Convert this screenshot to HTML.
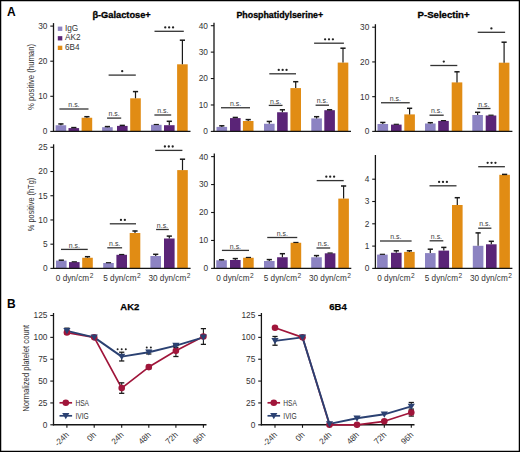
<!DOCTYPE html>
<html><head><meta charset="utf-8"><style>
html,body{margin:0;padding:0;background:#fff;}
body{width:520px;height:452px;overflow:hidden;}
svg{display:block;font-family:"Liberation Sans", sans-serif;}
</style></head><body>
<svg width="520" height="452" viewBox="0 0 520 452">
<rect x="0" y="0" width="520" height="452" fill="#fff"/>
<line x1="53.50" y1="23.10" x2="53.50" y2="132.00" stroke="#151515" stroke-width="1.3"/>
<line x1="50.30" y1="131.40" x2="53.50" y2="131.40" stroke="#151515" stroke-width="1.1"/>
<text x="47.40" y="134.30" font-size="8.3" text-anchor="end" font-weight="normal" fill="#333333" >0</text>
<line x1="50.30" y1="96.30" x2="53.50" y2="96.30" stroke="#151515" stroke-width="1.1"/>
<text x="47.40" y="99.20" font-size="8.3" text-anchor="end" font-weight="normal" fill="#333333" >10</text>
<line x1="50.30" y1="61.20" x2="53.50" y2="61.20" stroke="#151515" stroke-width="1.1"/>
<text x="47.40" y="64.10" font-size="8.3" text-anchor="end" font-weight="normal" fill="#333333" >20</text>
<line x1="50.30" y1="26.10" x2="53.50" y2="26.10" stroke="#151515" stroke-width="1.1"/>
<text x="47.40" y="29.00" font-size="8.3" text-anchor="end" font-weight="normal" fill="#333333" >30</text>
<rect x="55.60" y="125.25" width="10.60" height="6.15" fill="#8c83c2"/>
<rect x="68.50" y="128.10" width="10.60" height="3.30" fill="#5a2477"/>
<rect x="81.60" y="117.75" width="10.60" height="13.65" fill="#e18c14"/>
<rect x="102.10" y="127.20" width="10.60" height="4.20" fill="#8c83c2"/>
<rect x="117.00" y="125.90" width="10.60" height="5.50" fill="#5a2477"/>
<rect x="130.20" y="98.30" width="10.60" height="33.10" fill="#e18c14"/>
<rect x="151.00" y="124.80" width="10.60" height="6.60" fill="#8c83c2"/>
<rect x="164.00" y="125.20" width="10.60" height="6.20" fill="#5a2477"/>
<rect x="177.10" y="64.30" width="10.60" height="67.10" fill="#e18c14"/>
<line x1="60.90" y1="125.25" x2="60.90" y2="123.75" stroke="#1a1a1a" stroke-width="1.2"/>
<line x1="58.30" y1="123.95" x2="63.50" y2="123.95" stroke="#1a1a1a" stroke-width="1.5"/>
<line x1="73.80" y1="128.10" x2="73.80" y2="127.40" stroke="#1a1a1a" stroke-width="1.2"/>
<line x1="71.20" y1="127.60" x2="76.40" y2="127.60" stroke="#1a1a1a" stroke-width="1.5"/>
<line x1="86.90" y1="117.75" x2="86.90" y2="116.50" stroke="#1a1a1a" stroke-width="1.2"/>
<line x1="84.30" y1="116.70" x2="89.50" y2="116.70" stroke="#1a1a1a" stroke-width="1.5"/>
<line x1="107.40" y1="127.20" x2="107.40" y2="126.40" stroke="#1a1a1a" stroke-width="1.2"/>
<line x1="104.80" y1="126.60" x2="110.00" y2="126.60" stroke="#1a1a1a" stroke-width="1.5"/>
<line x1="122.30" y1="125.90" x2="122.30" y2="125.20" stroke="#1a1a1a" stroke-width="1.2"/>
<line x1="119.70" y1="125.40" x2="124.90" y2="125.40" stroke="#1a1a1a" stroke-width="1.5"/>
<line x1="135.50" y1="98.30" x2="135.50" y2="91.40" stroke="#1a1a1a" stroke-width="1.2"/>
<line x1="132.90" y1="91.60" x2="138.10" y2="91.60" stroke="#1a1a1a" stroke-width="1.5"/>
<line x1="153.70" y1="124.50" x2="158.90" y2="124.50" stroke="#1a1a1a" stroke-width="1.2"/>
<line x1="169.30" y1="125.20" x2="169.30" y2="121.10" stroke="#1a1a1a" stroke-width="1.2"/>
<line x1="166.70" y1="121.30" x2="171.90" y2="121.30" stroke="#1a1a1a" stroke-width="1.5"/>
<line x1="182.40" y1="64.30" x2="182.40" y2="40.00" stroke="#1a1a1a" stroke-width="1.2"/>
<line x1="179.80" y1="40.20" x2="185.00" y2="40.20" stroke="#1a1a1a" stroke-width="1.5"/>
<line x1="52.90" y1="131.40" x2="190.50" y2="131.40" stroke="#151515" stroke-width="1.4"/>
<line x1="59.40" y1="109.00" x2="88.50" y2="109.00" stroke="#333333" stroke-width="1.3"/>
<text x="73.95" y="107.20" font-size="6.5" text-anchor="middle" font-weight="normal" fill="#3a3a3a" textLength="11.2" lengthAdjust="spacingAndGlyphs" >n.s.</text>
<line x1="107.10" y1="118.10" x2="121.20" y2="118.10" stroke="#333333" stroke-width="1.3"/>
<text x="114.15" y="116.30" font-size="6.5" text-anchor="middle" font-weight="normal" fill="#3a3a3a" textLength="11.2" lengthAdjust="spacingAndGlyphs" >n.s.</text>
<line x1="108.60" y1="75.10" x2="135.80" y2="75.10" stroke="#333333" stroke-width="1.3"/>
<circle cx="122.20" cy="71.20" r="1.15" fill="#222"/>
<line x1="154.40" y1="115.00" x2="171.20" y2="115.00" stroke="#333333" stroke-width="1.3"/>
<text x="162.80" y="113.20" font-size="6.5" text-anchor="middle" font-weight="normal" fill="#3a3a3a" textLength="11.2" lengthAdjust="spacingAndGlyphs" >n.s.</text>
<line x1="154.50" y1="31.30" x2="183.80" y2="31.30" stroke="#333333" stroke-width="1.3"/>
<circle cx="165.25" cy="27.40" r="1.15" fill="#222"/>
<circle cx="169.15" cy="27.40" r="1.15" fill="#222"/>
<circle cx="173.05" cy="27.40" r="1.15" fill="#222"/>
<line x1="214.00" y1="22.70" x2="214.00" y2="132.00" stroke="#151515" stroke-width="1.3"/>
<line x1="210.80" y1="131.40" x2="214.00" y2="131.40" stroke="#151515" stroke-width="1.1"/>
<text x="207.90" y="134.30" font-size="8.3" text-anchor="end" font-weight="normal" fill="#333333" >0</text>
<line x1="210.80" y1="104.98" x2="214.00" y2="104.98" stroke="#151515" stroke-width="1.1"/>
<text x="207.90" y="107.88" font-size="8.3" text-anchor="end" font-weight="normal" fill="#333333" >10</text>
<line x1="210.80" y1="78.55" x2="214.00" y2="78.55" stroke="#151515" stroke-width="1.1"/>
<text x="207.90" y="81.45" font-size="8.3" text-anchor="end" font-weight="normal" fill="#333333" >20</text>
<line x1="210.80" y1="52.12" x2="214.00" y2="52.12" stroke="#151515" stroke-width="1.1"/>
<text x="207.90" y="55.02" font-size="8.3" text-anchor="end" font-weight="normal" fill="#333333" >30</text>
<line x1="210.80" y1="25.70" x2="214.00" y2="25.70" stroke="#151515" stroke-width="1.1"/>
<text x="207.90" y="28.60" font-size="8.3" text-anchor="end" font-weight="normal" fill="#333333" >40</text>
<rect x="216.50" y="126.90" width="10.60" height="4.50" fill="#8c83c2"/>
<rect x="230.00" y="118.10" width="10.60" height="13.30" fill="#5a2477"/>
<rect x="242.90" y="121.00" width="10.60" height="10.40" fill="#e18c14"/>
<rect x="264.00" y="123.75" width="10.60" height="7.65" fill="#8c83c2"/>
<rect x="277.10" y="112.25" width="10.60" height="19.15" fill="#5a2477"/>
<rect x="290.40" y="88.10" width="10.60" height="43.30" fill="#e18c14"/>
<rect x="311.30" y="118.40" width="10.60" height="13.00" fill="#8c83c2"/>
<rect x="324.30" y="110.20" width="10.60" height="21.20" fill="#5a2477"/>
<rect x="337.70" y="62.60" width="10.60" height="68.80" fill="#e18c14"/>
<line x1="221.80" y1="126.90" x2="221.80" y2="125.60" stroke="#1a1a1a" stroke-width="1.2"/>
<line x1="219.20" y1="125.80" x2="224.40" y2="125.80" stroke="#1a1a1a" stroke-width="1.5"/>
<line x1="235.30" y1="118.10" x2="235.30" y2="117.25" stroke="#1a1a1a" stroke-width="1.2"/>
<line x1="232.70" y1="117.45" x2="237.90" y2="117.45" stroke="#1a1a1a" stroke-width="1.5"/>
<line x1="248.20" y1="121.00" x2="248.20" y2="119.40" stroke="#1a1a1a" stroke-width="1.2"/>
<line x1="245.60" y1="119.60" x2="250.80" y2="119.60" stroke="#1a1a1a" stroke-width="1.5"/>
<line x1="269.30" y1="123.75" x2="269.30" y2="121.25" stroke="#1a1a1a" stroke-width="1.2"/>
<line x1="266.70" y1="121.45" x2="271.90" y2="121.45" stroke="#1a1a1a" stroke-width="1.5"/>
<line x1="282.40" y1="112.25" x2="282.40" y2="109.60" stroke="#1a1a1a" stroke-width="1.2"/>
<line x1="279.80" y1="109.80" x2="285.00" y2="109.80" stroke="#1a1a1a" stroke-width="1.5"/>
<line x1="295.70" y1="88.10" x2="295.70" y2="81.50" stroke="#1a1a1a" stroke-width="1.2"/>
<line x1="293.10" y1="81.70" x2="298.30" y2="81.70" stroke="#1a1a1a" stroke-width="1.5"/>
<line x1="316.60" y1="118.40" x2="316.60" y2="116.50" stroke="#1a1a1a" stroke-width="1.2"/>
<line x1="314.00" y1="116.70" x2="319.20" y2="116.70" stroke="#1a1a1a" stroke-width="1.5"/>
<line x1="329.60" y1="110.20" x2="329.60" y2="109.60" stroke="#1a1a1a" stroke-width="1.2"/>
<line x1="327.00" y1="109.80" x2="332.20" y2="109.80" stroke="#1a1a1a" stroke-width="1.5"/>
<line x1="343.00" y1="62.60" x2="343.00" y2="48.00" stroke="#1a1a1a" stroke-width="1.2"/>
<line x1="340.40" y1="48.20" x2="345.60" y2="48.20" stroke="#1a1a1a" stroke-width="1.5"/>
<line x1="213.40" y1="131.40" x2="351.00" y2="131.40" stroke="#151515" stroke-width="1.4"/>
<line x1="221.00" y1="107.75" x2="250.00" y2="107.75" stroke="#333333" stroke-width="1.3"/>
<text x="235.50" y="105.95" font-size="6.5" text-anchor="middle" font-weight="normal" fill="#3a3a3a" textLength="11.2" lengthAdjust="spacingAndGlyphs" >n.s.</text>
<line x1="268.75" y1="105.40" x2="282.50" y2="105.40" stroke="#333333" stroke-width="1.3"/>
<text x="275.62" y="103.60" font-size="6.5" text-anchor="middle" font-weight="normal" fill="#3a3a3a" textLength="11.2" lengthAdjust="spacingAndGlyphs" >n.s.</text>
<line x1="269.30" y1="73.80" x2="296.00" y2="73.80" stroke="#333333" stroke-width="1.3"/>
<circle cx="278.75" cy="69.90" r="1.15" fill="#222"/>
<circle cx="282.65" cy="69.90" r="1.15" fill="#222"/>
<circle cx="286.55" cy="69.90" r="1.15" fill="#222"/>
<line x1="315.60" y1="105.20" x2="329.00" y2="105.20" stroke="#333333" stroke-width="1.3"/>
<text x="322.30" y="103.40" font-size="6.5" text-anchor="middle" font-weight="normal" fill="#3a3a3a" textLength="11.2" lengthAdjust="spacingAndGlyphs" >n.s.</text>
<line x1="314.10" y1="43.20" x2="343.90" y2="43.20" stroke="#333333" stroke-width="1.3"/>
<circle cx="325.10" cy="39.30" r="1.15" fill="#222"/>
<circle cx="329.00" cy="39.30" r="1.15" fill="#222"/>
<circle cx="332.90" cy="39.30" r="1.15" fill="#222"/>
<line x1="375.40" y1="24.20" x2="375.40" y2="132.00" stroke="#151515" stroke-width="1.3"/>
<line x1="372.20" y1="131.40" x2="375.40" y2="131.40" stroke="#151515" stroke-width="1.1"/>
<text x="369.30" y="134.30" font-size="8.3" text-anchor="end" font-weight="normal" fill="#333333" >0</text>
<line x1="372.20" y1="96.67" x2="375.40" y2="96.67" stroke="#151515" stroke-width="1.1"/>
<text x="369.30" y="99.57" font-size="8.3" text-anchor="end" font-weight="normal" fill="#333333" >10</text>
<line x1="372.20" y1="61.93" x2="375.40" y2="61.93" stroke="#151515" stroke-width="1.1"/>
<text x="369.30" y="64.83" font-size="8.3" text-anchor="end" font-weight="normal" fill="#333333" >20</text>
<line x1="372.20" y1="27.20" x2="375.40" y2="27.20" stroke="#151515" stroke-width="1.1"/>
<text x="369.30" y="30.10" font-size="8.3" text-anchor="end" font-weight="normal" fill="#333333" >30</text>
<rect x="377.50" y="124.00" width="10.60" height="7.40" fill="#8c83c2"/>
<rect x="391.00" y="124.60" width="10.60" height="6.80" fill="#5a2477"/>
<rect x="404.30" y="114.40" width="10.60" height="17.00" fill="#e18c14"/>
<rect x="425.00" y="123.50" width="10.60" height="7.90" fill="#8c83c2"/>
<rect x="438.20" y="120.90" width="10.60" height="10.50" fill="#5a2477"/>
<rect x="451.70" y="82.40" width="10.60" height="49.00" fill="#e18c14"/>
<rect x="472.30" y="115.00" width="10.60" height="16.40" fill="#8c83c2"/>
<rect x="485.70" y="115.50" width="10.60" height="15.90" fill="#5a2477"/>
<rect x="498.80" y="62.70" width="10.60" height="68.70" fill="#e18c14"/>
<line x1="382.80" y1="124.00" x2="382.80" y2="122.25" stroke="#1a1a1a" stroke-width="1.2"/>
<line x1="380.20" y1="122.45" x2="385.40" y2="122.45" stroke="#1a1a1a" stroke-width="1.5"/>
<line x1="393.70" y1="124.30" x2="398.90" y2="124.30" stroke="#1a1a1a" stroke-width="1.2"/>
<line x1="409.60" y1="114.40" x2="409.60" y2="108.10" stroke="#1a1a1a" stroke-width="1.2"/>
<line x1="407.00" y1="108.30" x2="412.20" y2="108.30" stroke="#1a1a1a" stroke-width="1.5"/>
<line x1="430.30" y1="123.50" x2="430.30" y2="122.50" stroke="#1a1a1a" stroke-width="1.2"/>
<line x1="427.70" y1="122.70" x2="432.90" y2="122.70" stroke="#1a1a1a" stroke-width="1.5"/>
<line x1="440.90" y1="120.60" x2="446.10" y2="120.60" stroke="#1a1a1a" stroke-width="1.2"/>
<line x1="457.00" y1="82.40" x2="457.00" y2="71.60" stroke="#1a1a1a" stroke-width="1.2"/>
<line x1="454.40" y1="71.80" x2="459.60" y2="71.80" stroke="#1a1a1a" stroke-width="1.5"/>
<line x1="477.60" y1="115.00" x2="477.60" y2="112.10" stroke="#1a1a1a" stroke-width="1.2"/>
<line x1="475.00" y1="112.30" x2="480.20" y2="112.30" stroke="#1a1a1a" stroke-width="1.5"/>
<line x1="488.40" y1="115.20" x2="493.60" y2="115.20" stroke="#1a1a1a" stroke-width="1.2"/>
<line x1="504.10" y1="62.70" x2="504.10" y2="42.00" stroke="#1a1a1a" stroke-width="1.2"/>
<line x1="501.50" y1="42.20" x2="506.70" y2="42.20" stroke="#1a1a1a" stroke-width="1.5"/>
<line x1="374.80" y1="131.40" x2="512.40" y2="131.40" stroke="#151515" stroke-width="1.4"/>
<line x1="381.00" y1="102.75" x2="409.75" y2="102.75" stroke="#333333" stroke-width="1.3"/>
<text x="395.38" y="100.95" font-size="6.5" text-anchor="middle" font-weight="normal" fill="#3a3a3a" textLength="11.2" lengthAdjust="spacingAndGlyphs" >n.s.</text>
<line x1="429.50" y1="115.20" x2="443.70" y2="115.20" stroke="#333333" stroke-width="1.3"/>
<text x="436.60" y="113.40" font-size="6.5" text-anchor="middle" font-weight="normal" fill="#3a3a3a" textLength="11.2" lengthAdjust="spacingAndGlyphs" >n.s.</text>
<line x1="430.30" y1="65.50" x2="457.30" y2="65.50" stroke="#333333" stroke-width="1.3"/>
<circle cx="443.80" cy="61.60" r="1.15" fill="#222"/>
<line x1="477.20" y1="108.50" x2="490.50" y2="108.50" stroke="#333333" stroke-width="1.3"/>
<text x="483.85" y="106.70" font-size="6.5" text-anchor="middle" font-weight="normal" fill="#3a3a3a" textLength="11.2" lengthAdjust="spacingAndGlyphs" >n.s.</text>
<line x1="477.70" y1="32.30" x2="505.10" y2="32.30" stroke="#333333" stroke-width="1.3"/>
<circle cx="491.40" cy="28.40" r="1.15" fill="#222"/>
<line x1="53.60" y1="144.30" x2="53.60" y2="269.00" stroke="#151515" stroke-width="1.3"/>
<line x1="50.40" y1="268.40" x2="53.60" y2="268.40" stroke="#151515" stroke-width="1.1"/>
<text x="47.50" y="271.30" font-size="8.3" text-anchor="end" font-weight="normal" fill="#333333" >0</text>
<line x1="50.40" y1="244.18" x2="53.60" y2="244.18" stroke="#151515" stroke-width="1.1"/>
<text x="47.50" y="247.08" font-size="8.3" text-anchor="end" font-weight="normal" fill="#333333" >5</text>
<line x1="50.40" y1="219.96" x2="53.60" y2="219.96" stroke="#151515" stroke-width="1.1"/>
<text x="47.50" y="222.86" font-size="8.3" text-anchor="end" font-weight="normal" fill="#333333" >10</text>
<line x1="50.40" y1="195.74" x2="53.60" y2="195.74" stroke="#151515" stroke-width="1.1"/>
<text x="47.50" y="198.64" font-size="8.3" text-anchor="end" font-weight="normal" fill="#333333" >15</text>
<line x1="50.40" y1="171.52" x2="53.60" y2="171.52" stroke="#151515" stroke-width="1.1"/>
<text x="47.50" y="174.42" font-size="8.3" text-anchor="end" font-weight="normal" fill="#333333" >20</text>
<line x1="50.40" y1="147.30" x2="53.60" y2="147.30" stroke="#151515" stroke-width="1.1"/>
<text x="47.50" y="150.20" font-size="8.3" text-anchor="end" font-weight="normal" fill="#333333" >25</text>
<rect x="56.00" y="260.60" width="10.60" height="7.80" fill="#8c83c2"/>
<rect x="69.00" y="262.10" width="10.60" height="6.30" fill="#5a2477"/>
<rect x="82.20" y="257.75" width="10.60" height="10.65" fill="#e18c14"/>
<rect x="103.20" y="263.00" width="10.60" height="5.40" fill="#8c83c2"/>
<rect x="116.40" y="254.80" width="10.60" height="13.60" fill="#5a2477"/>
<rect x="129.70" y="233.00" width="10.60" height="35.40" fill="#e18c14"/>
<rect x="150.40" y="256.00" width="10.60" height="12.40" fill="#8c83c2"/>
<rect x="164.00" y="238.50" width="10.60" height="29.90" fill="#5a2477"/>
<rect x="177.20" y="170.10" width="10.60" height="98.30" fill="#e18c14"/>
<line x1="61.30" y1="260.60" x2="61.30" y2="260.00" stroke="#1a1a1a" stroke-width="1.2"/>
<line x1="58.70" y1="260.20" x2="63.90" y2="260.20" stroke="#1a1a1a" stroke-width="1.5"/>
<line x1="71.70" y1="261.80" x2="76.90" y2="261.80" stroke="#1a1a1a" stroke-width="1.2"/>
<line x1="87.50" y1="257.75" x2="87.50" y2="256.50" stroke="#1a1a1a" stroke-width="1.2"/>
<line x1="84.90" y1="256.70" x2="90.10" y2="256.70" stroke="#1a1a1a" stroke-width="1.5"/>
<line x1="105.90" y1="262.70" x2="111.10" y2="262.70" stroke="#1a1a1a" stroke-width="1.2"/>
<line x1="119.10" y1="254.50" x2="124.30" y2="254.50" stroke="#1a1a1a" stroke-width="1.2"/>
<line x1="135.00" y1="233.00" x2="135.00" y2="230.80" stroke="#1a1a1a" stroke-width="1.2"/>
<line x1="132.40" y1="231.00" x2="137.60" y2="231.00" stroke="#1a1a1a" stroke-width="1.5"/>
<line x1="155.70" y1="256.00" x2="155.70" y2="254.10" stroke="#1a1a1a" stroke-width="1.2"/>
<line x1="153.10" y1="254.30" x2="158.30" y2="254.30" stroke="#1a1a1a" stroke-width="1.5"/>
<line x1="169.30" y1="238.50" x2="169.30" y2="235.90" stroke="#1a1a1a" stroke-width="1.2"/>
<line x1="166.70" y1="236.10" x2="171.90" y2="236.10" stroke="#1a1a1a" stroke-width="1.5"/>
<line x1="182.50" y1="170.10" x2="182.50" y2="159.00" stroke="#1a1a1a" stroke-width="1.2"/>
<line x1="179.90" y1="159.20" x2="185.10" y2="159.20" stroke="#1a1a1a" stroke-width="1.5"/>
<line x1="53.00" y1="268.40" x2="190.60" y2="268.40" stroke="#151515" stroke-width="1.4"/>
<line x1="61.00" y1="249.40" x2="87.75" y2="249.40" stroke="#333333" stroke-width="1.3"/>
<text x="74.38" y="247.60" font-size="6.5" text-anchor="middle" font-weight="normal" fill="#3a3a3a" textLength="11.2" lengthAdjust="spacingAndGlyphs" >n.s.</text>
<line x1="107.30" y1="247.80" x2="122.10" y2="247.80" stroke="#333333" stroke-width="1.3"/>
<text x="114.70" y="246.00" font-size="6.5" text-anchor="middle" font-weight="normal" fill="#3a3a3a" textLength="11.2" lengthAdjust="spacingAndGlyphs" >n.s.</text>
<line x1="109.80" y1="223.80" x2="136.00" y2="223.80" stroke="#333333" stroke-width="1.3"/>
<circle cx="120.95" cy="219.90" r="1.15" fill="#222"/>
<circle cx="124.85" cy="219.90" r="1.15" fill="#222"/>
<line x1="156.10" y1="229.50" x2="168.80" y2="229.50" stroke="#333333" stroke-width="1.3"/>
<text x="162.45" y="227.70" font-size="6.5" text-anchor="middle" font-weight="normal" fill="#3a3a3a" textLength="11.2" lengthAdjust="spacingAndGlyphs" >n.s.</text>
<line x1="155.20" y1="150.40" x2="182.40" y2="150.40" stroke="#333333" stroke-width="1.3"/>
<circle cx="164.90" cy="146.50" r="1.15" fill="#222"/>
<circle cx="168.80" cy="146.50" r="1.15" fill="#222"/>
<circle cx="172.70" cy="146.50" r="1.15" fill="#222"/>
<text x="74.60" y="280.90" font-size="8.2" text-anchor="middle" fill="#333333">0 dyn/cm<tspan font-size="6.6" dx="0.6" dy="-3.3">2</tspan></text>
<text x="122.00" y="280.90" font-size="8.2" text-anchor="middle" fill="#333333">5 dyn/cm<tspan font-size="6.6" dx="0.6" dy="-3.3">2</tspan></text>
<text x="169.50" y="280.90" font-size="8.2" text-anchor="middle" fill="#333333">30 dyn/cm<tspan font-size="6.6" dx="0.6" dy="-3.3">2</tspan></text>
<line x1="214.30" y1="153.60" x2="214.30" y2="269.00" stroke="#151515" stroke-width="1.3"/>
<line x1="211.10" y1="268.40" x2="214.30" y2="268.40" stroke="#151515" stroke-width="1.1"/>
<text x="208.20" y="271.30" font-size="8.3" text-anchor="end" font-weight="normal" fill="#333333" >0</text>
<line x1="211.10" y1="240.45" x2="214.30" y2="240.45" stroke="#151515" stroke-width="1.1"/>
<text x="208.20" y="243.35" font-size="8.3" text-anchor="end" font-weight="normal" fill="#333333" >10</text>
<line x1="211.10" y1="212.50" x2="214.30" y2="212.50" stroke="#151515" stroke-width="1.1"/>
<text x="208.20" y="215.40" font-size="8.3" text-anchor="end" font-weight="normal" fill="#333333" >20</text>
<line x1="211.10" y1="184.55" x2="214.30" y2="184.55" stroke="#151515" stroke-width="1.1"/>
<text x="208.20" y="187.45" font-size="8.3" text-anchor="end" font-weight="normal" fill="#333333" >30</text>
<line x1="211.10" y1="156.60" x2="214.30" y2="156.60" stroke="#151515" stroke-width="1.1"/>
<text x="208.20" y="159.50" font-size="8.3" text-anchor="end" font-weight="normal" fill="#333333" >40</text>
<rect x="216.25" y="260.25" width="10.60" height="8.15" fill="#8c83c2"/>
<rect x="230.00" y="260.00" width="10.60" height="8.40" fill="#5a2477"/>
<rect x="243.10" y="257.75" width="10.60" height="10.65" fill="#e18c14"/>
<rect x="264.00" y="261.00" width="10.60" height="7.40" fill="#8c83c2"/>
<rect x="277.10" y="257.25" width="10.60" height="11.15" fill="#5a2477"/>
<rect x="290.60" y="242.75" width="10.60" height="25.65" fill="#e18c14"/>
<rect x="311.20" y="257.25" width="10.60" height="11.15" fill="#8c83c2"/>
<rect x="324.80" y="253.30" width="10.60" height="15.10" fill="#5a2477"/>
<rect x="338.30" y="198.60" width="10.60" height="69.80" fill="#e18c14"/>
<line x1="221.55" y1="260.25" x2="221.55" y2="259.60" stroke="#1a1a1a" stroke-width="1.2"/>
<line x1="218.95" y1="259.80" x2="224.15" y2="259.80" stroke="#1a1a1a" stroke-width="1.5"/>
<line x1="235.30" y1="260.00" x2="235.30" y2="258.40" stroke="#1a1a1a" stroke-width="1.2"/>
<line x1="232.70" y1="258.60" x2="237.90" y2="258.60" stroke="#1a1a1a" stroke-width="1.5"/>
<line x1="245.80" y1="257.45" x2="251.00" y2="257.45" stroke="#1a1a1a" stroke-width="1.2"/>
<line x1="269.30" y1="261.00" x2="269.30" y2="259.40" stroke="#1a1a1a" stroke-width="1.2"/>
<line x1="266.70" y1="259.60" x2="271.90" y2="259.60" stroke="#1a1a1a" stroke-width="1.5"/>
<line x1="282.40" y1="257.25" x2="282.40" y2="253.50" stroke="#1a1a1a" stroke-width="1.2"/>
<line x1="279.80" y1="253.70" x2="285.00" y2="253.70" stroke="#1a1a1a" stroke-width="1.5"/>
<line x1="293.30" y1="242.45" x2="298.50" y2="242.45" stroke="#1a1a1a" stroke-width="1.2"/>
<line x1="316.50" y1="257.25" x2="316.50" y2="255.40" stroke="#1a1a1a" stroke-width="1.2"/>
<line x1="313.90" y1="255.60" x2="319.10" y2="255.60" stroke="#1a1a1a" stroke-width="1.5"/>
<line x1="327.50" y1="253.00" x2="332.70" y2="253.00" stroke="#1a1a1a" stroke-width="1.2"/>
<line x1="343.60" y1="198.60" x2="343.60" y2="185.80" stroke="#1a1a1a" stroke-width="1.2"/>
<line x1="341.00" y1="186.00" x2="346.20" y2="186.00" stroke="#1a1a1a" stroke-width="1.5"/>
<line x1="213.70" y1="268.40" x2="351.30" y2="268.40" stroke="#151515" stroke-width="1.4"/>
<line x1="221.90" y1="250.40" x2="249.00" y2="250.40" stroke="#333333" stroke-width="1.3"/>
<text x="235.45" y="248.60" font-size="6.5" text-anchor="middle" font-weight="normal" fill="#3a3a3a" textLength="11.2" lengthAdjust="spacingAndGlyphs" >n.s.</text>
<line x1="267.25" y1="237.50" x2="297.25" y2="237.50" stroke="#333333" stroke-width="1.3"/>
<text x="282.25" y="235.70" font-size="6.5" text-anchor="middle" font-weight="normal" fill="#3a3a3a" textLength="11.2" lengthAdjust="spacingAndGlyphs" >n.s.</text>
<line x1="316.50" y1="248.00" x2="330.20" y2="248.00" stroke="#333333" stroke-width="1.3"/>
<text x="323.35" y="246.20" font-size="6.5" text-anchor="middle" font-weight="normal" fill="#3a3a3a" textLength="11.2" lengthAdjust="spacingAndGlyphs" >n.s.</text>
<line x1="316.70" y1="180.60" x2="343.70" y2="180.60" stroke="#333333" stroke-width="1.3"/>
<circle cx="326.30" cy="176.70" r="1.15" fill="#222"/>
<circle cx="330.20" cy="176.70" r="1.15" fill="#222"/>
<circle cx="334.10" cy="176.70" r="1.15" fill="#222"/>
<text x="235.00" y="280.90" font-size="8.2" text-anchor="middle" fill="#333333">0 dyn/cm<tspan font-size="6.6" dx="0.6" dy="-3.3">2</tspan></text>
<text x="282.50" y="280.90" font-size="8.2" text-anchor="middle" fill="#333333">5 dyn/cm<tspan font-size="6.6" dx="0.6" dy="-3.3">2</tspan></text>
<text x="330.00" y="280.90" font-size="8.2" text-anchor="middle" fill="#333333">30 dyn/cm<tspan font-size="6.6" dx="0.6" dy="-3.3">2</tspan></text>
<line x1="375.40" y1="155.00" x2="375.40" y2="269.00" stroke="#151515" stroke-width="1.3"/>
<line x1="372.20" y1="268.40" x2="375.40" y2="268.40" stroke="#151515" stroke-width="1.1"/>
<text x="369.30" y="271.30" font-size="8.3" text-anchor="end" font-weight="normal" fill="#333333" >0</text>
<line x1="372.20" y1="246.10" x2="375.40" y2="246.10" stroke="#151515" stroke-width="1.1"/>
<text x="369.30" y="249.00" font-size="8.3" text-anchor="end" font-weight="normal" fill="#333333" >1</text>
<line x1="372.20" y1="223.80" x2="375.40" y2="223.80" stroke="#151515" stroke-width="1.1"/>
<text x="369.30" y="226.70" font-size="8.3" text-anchor="end" font-weight="normal" fill="#333333" >2</text>
<line x1="372.20" y1="201.50" x2="375.40" y2="201.50" stroke="#151515" stroke-width="1.1"/>
<text x="369.30" y="204.40" font-size="8.3" text-anchor="end" font-weight="normal" fill="#333333" >3</text>
<line x1="372.20" y1="179.20" x2="375.40" y2="179.20" stroke="#151515" stroke-width="1.1"/>
<text x="369.30" y="182.10" font-size="8.3" text-anchor="end" font-weight="normal" fill="#333333" >4</text>
<rect x="377.10" y="254.60" width="10.60" height="13.80" fill="#8c83c2"/>
<rect x="391.00" y="252.75" width="10.60" height="15.65" fill="#5a2477"/>
<rect x="404.10" y="251.90" width="10.60" height="16.50" fill="#e18c14"/>
<rect x="425.00" y="253.10" width="10.60" height="15.30" fill="#8c83c2"/>
<rect x="438.50" y="250.60" width="10.60" height="17.80" fill="#5a2477"/>
<rect x="452.00" y="205.00" width="10.60" height="63.40" fill="#e18c14"/>
<rect x="472.80" y="245.80" width="10.60" height="22.60" fill="#8c83c2"/>
<rect x="486.00" y="244.30" width="10.60" height="24.10" fill="#5a2477"/>
<rect x="499.30" y="174.80" width="10.60" height="93.60" fill="#e18c14"/>
<line x1="379.80" y1="254.30" x2="385.00" y2="254.30" stroke="#1a1a1a" stroke-width="1.2"/>
<line x1="396.30" y1="252.75" x2="396.30" y2="250.60" stroke="#1a1a1a" stroke-width="1.2"/>
<line x1="393.70" y1="250.80" x2="398.90" y2="250.80" stroke="#1a1a1a" stroke-width="1.5"/>
<line x1="409.40" y1="251.90" x2="409.40" y2="250.60" stroke="#1a1a1a" stroke-width="1.2"/>
<line x1="406.80" y1="250.80" x2="412.00" y2="250.80" stroke="#1a1a1a" stroke-width="1.5"/>
<line x1="430.30" y1="253.10" x2="430.30" y2="249.00" stroke="#1a1a1a" stroke-width="1.2"/>
<line x1="427.70" y1="249.20" x2="432.90" y2="249.20" stroke="#1a1a1a" stroke-width="1.5"/>
<line x1="443.80" y1="250.60" x2="443.80" y2="247.20" stroke="#1a1a1a" stroke-width="1.2"/>
<line x1="441.20" y1="247.40" x2="446.40" y2="247.40" stroke="#1a1a1a" stroke-width="1.5"/>
<line x1="457.30" y1="205.00" x2="457.30" y2="197.50" stroke="#1a1a1a" stroke-width="1.2"/>
<line x1="454.70" y1="197.70" x2="459.90" y2="197.70" stroke="#1a1a1a" stroke-width="1.5"/>
<line x1="478.10" y1="245.80" x2="478.10" y2="232.70" stroke="#1a1a1a" stroke-width="1.2"/>
<line x1="475.50" y1="232.90" x2="480.70" y2="232.90" stroke="#1a1a1a" stroke-width="1.5"/>
<line x1="491.30" y1="244.30" x2="491.30" y2="241.10" stroke="#1a1a1a" stroke-width="1.2"/>
<line x1="488.70" y1="241.30" x2="493.90" y2="241.30" stroke="#1a1a1a" stroke-width="1.5"/>
<line x1="504.60" y1="174.80" x2="504.60" y2="174.20" stroke="#1a1a1a" stroke-width="1.2"/>
<line x1="502.00" y1="174.40" x2="507.20" y2="174.40" stroke="#1a1a1a" stroke-width="1.5"/>
<line x1="374.80" y1="268.40" x2="512.40" y2="268.40" stroke="#151515" stroke-width="1.4"/>
<line x1="380.00" y1="241.00" x2="411.60" y2="241.00" stroke="#333333" stroke-width="1.3"/>
<text x="395.80" y="239.20" font-size="6.5" text-anchor="middle" font-weight="normal" fill="#3a3a3a" textLength="11.2" lengthAdjust="spacingAndGlyphs" >n.s.</text>
<line x1="429.60" y1="240.80" x2="443.30" y2="240.80" stroke="#333333" stroke-width="1.3"/>
<text x="436.45" y="239.00" font-size="6.5" text-anchor="middle" font-weight="normal" fill="#3a3a3a" textLength="11.2" lengthAdjust="spacingAndGlyphs" >n.s.</text>
<line x1="429.50" y1="185.80" x2="456.50" y2="185.80" stroke="#333333" stroke-width="1.3"/>
<circle cx="439.10" cy="181.90" r="1.15" fill="#222"/>
<circle cx="443.00" cy="181.90" r="1.15" fill="#222"/>
<circle cx="446.90" cy="181.90" r="1.15" fill="#222"/>
<line x1="478.20" y1="228.20" x2="491.40" y2="228.20" stroke="#333333" stroke-width="1.3"/>
<text x="484.80" y="226.40" font-size="6.5" text-anchor="middle" font-weight="normal" fill="#3a3a3a" textLength="11.2" lengthAdjust="spacingAndGlyphs" >n.s.</text>
<line x1="478.20" y1="166.70" x2="504.90" y2="166.70" stroke="#333333" stroke-width="1.3"/>
<circle cx="487.65" cy="162.80" r="1.15" fill="#222"/>
<circle cx="491.55" cy="162.80" r="1.15" fill="#222"/>
<circle cx="495.45" cy="162.80" r="1.15" fill="#222"/>
<text x="396.00" y="280.90" font-size="8.2" text-anchor="middle" fill="#333333">0 dyn/cm<tspan font-size="6.6" dx="0.6" dy="-3.3">2</tspan></text>
<text x="443.50" y="280.90" font-size="8.2" text-anchor="middle" fill="#333333">5 dyn/cm<tspan font-size="6.6" dx="0.6" dy="-3.3">2</tspan></text>
<text x="491.00" y="280.90" font-size="8.2" text-anchor="middle" fill="#333333">30 dyn/cm<tspan font-size="6.6" dx="0.6" dy="-3.3">2</tspan></text>
<text x="121.60" y="18.10" font-size="9" text-anchor="middle" font-weight="bold" fill="#000" textLength="58.4" lengthAdjust="spacingAndGlyphs" stroke="#000" stroke-width="0.3">&#946;-Galactose+</text>
<text x="279.80" y="18.10" font-size="9" text-anchor="middle" font-weight="bold" fill="#000" textLength="86.7" lengthAdjust="spacingAndGlyphs" stroke="#000" stroke-width="0.3">Phosphatidylserine+</text>
<text x="443.60" y="18.10" font-size="9" text-anchor="middle" font-weight="bold" fill="#000" textLength="52" lengthAdjust="spacingAndGlyphs" stroke="#000" stroke-width="0.3">P-Selectin+</text>
<rect x="57.80" y="26.60" width="4.50" height="4.30" fill="#8c83c2"/>
<text x="65.00" y="30.60" font-size="8.2" text-anchor="start" font-weight="normal" fill="#333333" >IgG</text>
<rect x="57.80" y="36.15" width="4.50" height="4.30" fill="#5a2477"/>
<text x="65.00" y="40.15" font-size="8.2" text-anchor="start" font-weight="normal" fill="#333333" >AK2</text>
<rect x="57.80" y="45.70" width="4.50" height="4.30" fill="#e18c14"/>
<text x="65.00" y="49.70" font-size="8.2" text-anchor="start" font-weight="normal" fill="#333333" >6B4</text>
<text transform="translate(33.5,77) rotate(-90)" font-size="8.8" text-anchor="middle" fill="#333333" textLength="66" lengthAdjust="spacingAndGlyphs">% positive (human)</text>
<text transform="translate(33.7,204.5) rotate(-90)" font-size="8.8" text-anchor="middle" fill="#333333" textLength="53.4" lengthAdjust="spacingAndGlyphs">% positive (hTg)</text>
<text transform="translate(28.6,368.3) rotate(-90)" font-size="9" text-anchor="middle" fill="#333333" textLength="87" lengthAdjust="spacingAndGlyphs">Normalized platelet count</text>
<text x="7.00" y="15.60" font-size="12" text-anchor="start" font-weight="bold" fill="#000" >A</text>
<text x="7.00" y="308.20" font-size="12" text-anchor="start" font-weight="bold" fill="#000" >B</text>
<line x1="53.50" y1="313.00" x2="53.50" y2="425.40" stroke="#151515" stroke-width="1.3"/>
<line x1="50.30" y1="424.80" x2="53.50" y2="424.80" stroke="#151515" stroke-width="1.1"/>
<text x="47.40" y="427.70" font-size="8.3" text-anchor="end" font-weight="normal" fill="#333333" >0</text>
<line x1="50.30" y1="402.94" x2="53.50" y2="402.94" stroke="#151515" stroke-width="1.1"/>
<text x="47.40" y="405.84" font-size="8.3" text-anchor="end" font-weight="normal" fill="#333333" >25</text>
<line x1="50.30" y1="381.08" x2="53.50" y2="381.08" stroke="#151515" stroke-width="1.1"/>
<text x="47.40" y="383.98" font-size="8.3" text-anchor="end" font-weight="normal" fill="#333333" >50</text>
<line x1="50.30" y1="359.22" x2="53.50" y2="359.22" stroke="#151515" stroke-width="1.1"/>
<text x="47.40" y="362.12" font-size="8.3" text-anchor="end" font-weight="normal" fill="#333333" >75</text>
<line x1="50.30" y1="337.36" x2="53.50" y2="337.36" stroke="#151515" stroke-width="1.1"/>
<text x="47.40" y="340.26" font-size="8.3" text-anchor="end" font-weight="normal" fill="#333333" >100</text>
<line x1="50.30" y1="315.50" x2="53.50" y2="315.50" stroke="#151515" stroke-width="1.1"/>
<text x="47.40" y="318.40" font-size="8.3" text-anchor="end" font-weight="normal" fill="#333333" >125</text>
<line x1="52.90" y1="424.80" x2="206.50" y2="424.80" stroke="#151515" stroke-width="1.4"/>
<line x1="66.90" y1="424.80" x2="66.90" y2="427.80" stroke="#151515" stroke-width="1.1"/>
<text transform="translate(69.50,435.20) rotate(-45)" font-size="8.2" text-anchor="end" fill="#333333">-24h</text>
<line x1="94.20" y1="424.80" x2="94.20" y2="427.80" stroke="#151515" stroke-width="1.1"/>
<text transform="translate(96.80,435.20) rotate(-45)" font-size="8.2" text-anchor="end" fill="#333333">0h</text>
<line x1="121.70" y1="424.80" x2="121.70" y2="427.80" stroke="#151515" stroke-width="1.1"/>
<text transform="translate(124.30,435.20) rotate(-45)" font-size="8.2" text-anchor="end" fill="#333333">24h</text>
<line x1="148.80" y1="424.80" x2="148.80" y2="427.80" stroke="#151515" stroke-width="1.1"/>
<text transform="translate(151.40,435.20) rotate(-45)" font-size="8.2" text-anchor="end" fill="#333333">48h</text>
<line x1="175.90" y1="424.80" x2="175.90" y2="427.80" stroke="#151515" stroke-width="1.1"/>
<text transform="translate(178.50,435.20) rotate(-45)" font-size="8.2" text-anchor="end" fill="#333333">72h</text>
<line x1="203.40" y1="424.80" x2="203.40" y2="427.80" stroke="#151515" stroke-width="1.1"/>
<text transform="translate(206.00,435.20) rotate(-45)" font-size="8.2" text-anchor="end" fill="#333333">96h</text>
<polyline points="66.90,332.55 94.20,337.36 121.70,388.08 148.80,367.09 175.90,350.83 203.40,336.49" fill="none" stroke="#a0153a" stroke-width="1.7" stroke-linejoin="round"/>
<polyline points="66.90,330.80 94.20,337.36 121.70,356.60 148.80,352.22 175.90,345.58 203.40,337.36" fill="none" stroke="#2b4172" stroke-width="1.9" stroke-linejoin="round"/>
<line x1="66.90" y1="331.24" x2="66.90" y2="333.86" stroke="#1a1a1a" stroke-width="1.1"/>
<line x1="64.30" y1="331.24" x2="69.50" y2="331.24" stroke="#1a1a1a" stroke-width="1.3"/>
<line x1="64.30" y1="333.86" x2="69.50" y2="333.86" stroke="#1a1a1a" stroke-width="1.3"/>
<line x1="121.70" y1="382.83" x2="121.70" y2="393.32" stroke="#1a1a1a" stroke-width="1.1"/>
<line x1="119.10" y1="382.83" x2="124.30" y2="382.83" stroke="#1a1a1a" stroke-width="1.3"/>
<line x1="119.10" y1="393.32" x2="124.30" y2="393.32" stroke="#1a1a1a" stroke-width="1.3"/>
<line x1="148.80" y1="365.34" x2="148.80" y2="368.84" stroke="#1a1a1a" stroke-width="1.1"/>
<line x1="146.20" y1="365.34" x2="151.40" y2="365.34" stroke="#1a1a1a" stroke-width="1.3"/>
<line x1="146.20" y1="368.84" x2="151.40" y2="368.84" stroke="#1a1a1a" stroke-width="1.3"/>
<line x1="175.90" y1="345.14" x2="175.90" y2="356.51" stroke="#1a1a1a" stroke-width="1.1"/>
<line x1="173.30" y1="345.14" x2="178.50" y2="345.14" stroke="#1a1a1a" stroke-width="1.3"/>
<line x1="173.30" y1="356.51" x2="178.50" y2="356.51" stroke="#1a1a1a" stroke-width="1.3"/>
<line x1="203.40" y1="328.62" x2="203.40" y2="344.36" stroke="#1a1a1a" stroke-width="1.1"/>
<line x1="200.80" y1="328.62" x2="206.00" y2="328.62" stroke="#1a1a1a" stroke-width="1.3"/>
<line x1="200.80" y1="344.36" x2="206.00" y2="344.36" stroke="#1a1a1a" stroke-width="1.3"/>
<line x1="66.90" y1="328.18" x2="66.90" y2="333.43" stroke="#1a1a1a" stroke-width="1.1"/>
<line x1="64.30" y1="328.18" x2="69.50" y2="328.18" stroke="#1a1a1a" stroke-width="1.3"/>
<line x1="64.30" y1="333.43" x2="69.50" y2="333.43" stroke="#1a1a1a" stroke-width="1.3"/>
<line x1="121.70" y1="352.22" x2="121.70" y2="360.97" stroke="#1a1a1a" stroke-width="1.1"/>
<line x1="119.10" y1="352.22" x2="124.30" y2="352.22" stroke="#1a1a1a" stroke-width="1.3"/>
<line x1="119.10" y1="360.97" x2="124.30" y2="360.97" stroke="#1a1a1a" stroke-width="1.3"/>
<line x1="148.80" y1="350.48" x2="148.80" y2="353.97" stroke="#1a1a1a" stroke-width="1.1"/>
<line x1="146.20" y1="350.48" x2="151.40" y2="350.48" stroke="#1a1a1a" stroke-width="1.3"/>
<line x1="146.20" y1="353.97" x2="151.40" y2="353.97" stroke="#1a1a1a" stroke-width="1.3"/>
<line x1="175.90" y1="343.83" x2="175.90" y2="347.33" stroke="#1a1a1a" stroke-width="1.1"/>
<line x1="173.30" y1="343.83" x2="178.50" y2="343.83" stroke="#1a1a1a" stroke-width="1.3"/>
<line x1="173.30" y1="347.33" x2="178.50" y2="347.33" stroke="#1a1a1a" stroke-width="1.3"/>
<circle cx="66.90" cy="332.55" r="3.3" fill="#a0153a"/>
<circle cx="94.20" cy="337.36" r="3.3" fill="#a0153a"/>
<circle cx="121.70" cy="388.08" r="3.3" fill="#a0153a"/>
<circle cx="148.80" cy="367.09" r="3.3" fill="#a0153a"/>
<circle cx="175.90" cy="350.83" r="3.3" fill="#a0153a"/>
<circle cx="203.40" cy="336.49" r="3.3" fill="#a0153a"/>
<path d="M63.30,328.00 L70.50,328.00 L66.90,334.20 Z" fill="#2b4172"/>
<path d="M90.60,334.56 L97.80,334.56 L94.20,340.76 Z" fill="#2b4172"/>
<path d="M118.10,353.80 L125.30,353.80 L121.70,360.00 Z" fill="#2b4172"/>
<path d="M145.20,349.42 L152.40,349.42 L148.80,355.62 Z" fill="#2b4172"/>
<path d="M172.30,342.78 L179.50,342.78 L175.90,348.98 Z" fill="#2b4172"/>
<path d="M199.80,334.56 L207.00,334.56 L203.40,340.76 Z" fill="#2b4172"/>
<circle cx="117.60" cy="349.20" r="1.0" fill="#222"/>
<circle cx="121.70" cy="349.20" r="1.0" fill="#222"/>
<circle cx="125.80" cy="349.20" r="1.0" fill="#222"/>
<circle cx="146.75" cy="347.50" r="1.0" fill="#222"/>
<circle cx="150.85" cy="347.50" r="1.0" fill="#222"/>
<text x="129.80" y="310.10" font-size="9.5" text-anchor="middle" font-weight="bold" fill="#000" stroke="#000" stroke-width="0.25">AK2</text>
<line x1="261.40" y1="313.00" x2="261.40" y2="425.40" stroke="#151515" stroke-width="1.3"/>
<line x1="258.20" y1="424.80" x2="261.40" y2="424.80" stroke="#151515" stroke-width="1.1"/>
<text x="255.30" y="427.70" font-size="8.3" text-anchor="end" font-weight="normal" fill="#333333" >0</text>
<line x1="258.20" y1="402.94" x2="261.40" y2="402.94" stroke="#151515" stroke-width="1.1"/>
<text x="255.30" y="405.84" font-size="8.3" text-anchor="end" font-weight="normal" fill="#333333" >25</text>
<line x1="258.20" y1="381.08" x2="261.40" y2="381.08" stroke="#151515" stroke-width="1.1"/>
<text x="255.30" y="383.98" font-size="8.3" text-anchor="end" font-weight="normal" fill="#333333" >50</text>
<line x1="258.20" y1="359.22" x2="261.40" y2="359.22" stroke="#151515" stroke-width="1.1"/>
<text x="255.30" y="362.12" font-size="8.3" text-anchor="end" font-weight="normal" fill="#333333" >75</text>
<line x1="258.20" y1="337.36" x2="261.40" y2="337.36" stroke="#151515" stroke-width="1.1"/>
<text x="255.30" y="340.26" font-size="8.3" text-anchor="end" font-weight="normal" fill="#333333" >100</text>
<line x1="258.20" y1="315.50" x2="261.40" y2="315.50" stroke="#151515" stroke-width="1.1"/>
<text x="255.30" y="318.40" font-size="8.3" text-anchor="end" font-weight="normal" fill="#333333" >125</text>
<line x1="260.80" y1="424.80" x2="414.50" y2="424.80" stroke="#151515" stroke-width="1.4"/>
<line x1="275.00" y1="424.80" x2="275.00" y2="427.80" stroke="#151515" stroke-width="1.1"/>
<text transform="translate(277.60,435.20) rotate(-45)" font-size="8.2" text-anchor="end" fill="#333333">-24h</text>
<line x1="302.50" y1="424.80" x2="302.50" y2="427.80" stroke="#151515" stroke-width="1.1"/>
<text transform="translate(305.10,435.20) rotate(-45)" font-size="8.2" text-anchor="end" fill="#333333">0h</text>
<line x1="329.50" y1="424.80" x2="329.50" y2="427.80" stroke="#151515" stroke-width="1.1"/>
<text transform="translate(332.10,435.20) rotate(-45)" font-size="8.2" text-anchor="end" fill="#333333">24h</text>
<line x1="357.00" y1="424.80" x2="357.00" y2="427.80" stroke="#151515" stroke-width="1.1"/>
<text transform="translate(359.60,435.20) rotate(-45)" font-size="8.2" text-anchor="end" fill="#333333">48h</text>
<line x1="384.30" y1="424.80" x2="384.30" y2="427.80" stroke="#151515" stroke-width="1.1"/>
<text transform="translate(386.90,435.20) rotate(-45)" font-size="8.2" text-anchor="end" fill="#333333">72h</text>
<line x1="411.30" y1="424.80" x2="411.30" y2="427.80" stroke="#151515" stroke-width="1.1"/>
<text transform="translate(413.90,435.20) rotate(-45)" font-size="8.2" text-anchor="end" fill="#333333">96h</text>
<polyline points="275.00,327.74 302.50,337.36 329.50,424.80 357.00,424.80 384.30,421.30 411.30,412.56" fill="none" stroke="#a0153a" stroke-width="1.7" stroke-linejoin="round"/>
<polyline points="275.00,340.86 302.50,337.36 329.50,423.93 357.00,418.24 384.30,414.31 411.30,406.44" fill="none" stroke="#2b4172" stroke-width="1.9" stroke-linejoin="round"/>
<line x1="384.30" y1="420.43" x2="384.30" y2="422.18" stroke="#1a1a1a" stroke-width="1.1"/>
<line x1="381.70" y1="420.43" x2="386.90" y2="420.43" stroke="#1a1a1a" stroke-width="1.3"/>
<line x1="381.70" y1="422.18" x2="386.90" y2="422.18" stroke="#1a1a1a" stroke-width="1.3"/>
<line x1="411.30" y1="409.06" x2="411.30" y2="416.06" stroke="#1a1a1a" stroke-width="1.1"/>
<line x1="408.70" y1="409.06" x2="413.90" y2="409.06" stroke="#1a1a1a" stroke-width="1.3"/>
<line x1="408.70" y1="416.06" x2="413.90" y2="416.06" stroke="#1a1a1a" stroke-width="1.3"/>
<line x1="275.00" y1="336.49" x2="275.00" y2="345.23" stroke="#1a1a1a" stroke-width="1.1"/>
<line x1="272.40" y1="336.49" x2="277.60" y2="336.49" stroke="#1a1a1a" stroke-width="1.3"/>
<line x1="272.40" y1="345.23" x2="277.60" y2="345.23" stroke="#1a1a1a" stroke-width="1.3"/>
<line x1="411.30" y1="402.50" x2="411.30" y2="410.37" stroke="#1a1a1a" stroke-width="1.1"/>
<line x1="408.70" y1="402.50" x2="413.90" y2="402.50" stroke="#1a1a1a" stroke-width="1.3"/>
<line x1="408.70" y1="410.37" x2="413.90" y2="410.37" stroke="#1a1a1a" stroke-width="1.3"/>
<circle cx="275.00" cy="327.74" r="3.3" fill="#a0153a"/>
<circle cx="302.50" cy="337.36" r="3.3" fill="#a0153a"/>
<circle cx="329.50" cy="424.80" r="3.3" fill="#a0153a"/>
<circle cx="357.00" cy="424.80" r="3.3" fill="#a0153a"/>
<circle cx="384.30" cy="421.30" r="3.3" fill="#a0153a"/>
<circle cx="411.30" cy="412.56" r="3.3" fill="#a0153a"/>
<path d="M271.40,338.06 L278.60,338.06 L275.00,344.26 Z" fill="#2b4172"/>
<path d="M298.90,334.56 L306.10,334.56 L302.50,340.76 Z" fill="#2b4172"/>
<path d="M325.90,421.13 L333.10,421.13 L329.50,427.33 Z" fill="#2b4172"/>
<path d="M353.40,415.44 L360.60,415.44 L357.00,421.64 Z" fill="#2b4172"/>
<path d="M380.70,411.51 L387.90,411.51 L384.30,417.71 Z" fill="#2b4172"/>
<path d="M407.70,403.64 L414.90,403.64 L411.30,409.84 Z" fill="#2b4172"/>
<text x="338.00" y="310.10" font-size="9.5" text-anchor="middle" font-weight="bold" fill="#000" stroke="#000" stroke-width="0.25">6B4</text>
<line x1="59.50" y1="402.80" x2="72.10" y2="402.80" stroke="#a0153a" stroke-width="1.7"/>
<circle cx="65.8" cy="402.8" r="3.3" fill="#a0153a"/>
<text x="75.40" y="405.70" font-size="8.2" text-anchor="start" font-weight="normal" fill="#333333" textLength="13.6" lengthAdjust="spacingAndGlyphs" >HSA</text>
<line x1="59.50" y1="415.80" x2="72.10" y2="415.80" stroke="#2b4172" stroke-width="1.7"/>
<path d="M62.20,413.00 L69.40,413.00 L65.80,419.20 Z" fill="#2b4172"/>
<text x="75.40" y="418.70" font-size="8.2" text-anchor="start" font-weight="normal" fill="#333333" textLength="13.4" lengthAdjust="spacingAndGlyphs" >IVIG</text>
<line x1="267.50" y1="402.80" x2="280.10" y2="402.80" stroke="#a0153a" stroke-width="1.7"/>
<circle cx="273.8" cy="402.8" r="3.3" fill="#a0153a"/>
<text x="283.30" y="405.70" font-size="8.2" text-anchor="start" font-weight="normal" fill="#333333" textLength="13.6" lengthAdjust="spacingAndGlyphs" >HSA</text>
<line x1="267.50" y1="415.80" x2="280.10" y2="415.80" stroke="#2b4172" stroke-width="1.7"/>
<path d="M270.20,413.00 L277.40,413.00 L273.80,419.20 Z" fill="#2b4172"/>
<text x="283.30" y="418.70" font-size="8.2" text-anchor="start" font-weight="normal" fill="#333333" textLength="13.4" lengthAdjust="spacingAndGlyphs" >IVIG</text>
<rect x="0.6" y="0.6" width="518.8" height="450.8" fill="none" stroke="#000" stroke-width="1.3"/>
</svg>
</body></html>
